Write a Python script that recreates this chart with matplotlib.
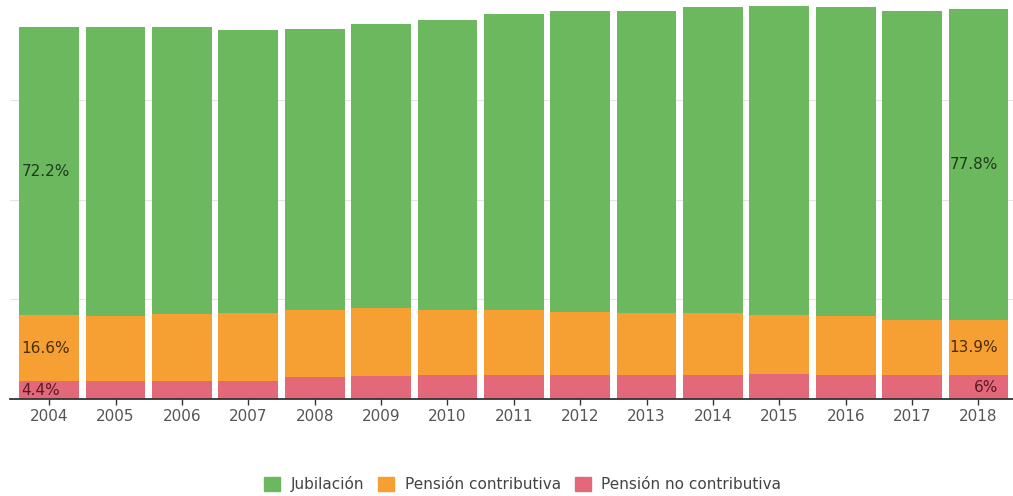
import matplotlib.pyplot as plt
from matplotlib.patches import Patch

years = ["2004", "2005", "2006", "2007", "2008", "2009", "2010", "2011",
         "2012", "2013", "2014", "2015", "2016", "2017", "2018"]
jubilacion = [72.2, 72.3, 71.9, 70.9, 70.4, 71.3, 72.7, 74.2,
              75.3, 75.8, 76.7, 77.5, 77.5, 77.4, 77.8]
contributiva = [16.6, 16.5, 16.9, 17.0, 17.0, 17.0, 16.5, 16.4,
                15.9, 15.5, 15.4, 14.8, 14.7, 13.9, 13.9]
no_contributiva = [4.4, 4.4, 4.5, 4.6, 5.4, 5.7, 5.9, 6.0,
                   6.0, 6.0, 6.1, 6.3, 6.0, 5.9, 6.0]
series_names = ["Jubilación", "Pensión contributiva", "Pensión no contributiva"]

c_green = "#6bb85f"
c_orange = "#f6a034"
c_pink = "#e3697a"

plt.rcParams["font.family"] = ["DejaVu Sans"]

fig = plt.figure(figsize=(10.13, 4.96), dpi=100)
ax = fig.add_axes([0.0099, 1 - 399 / 496, 0.9901, 399 / 496])

x = list(range(len(years)))
w = 0.9
ax.bar(x, no_contributiva, width=w, color=c_pink, zorder=2)
ax.bar(x, contributiva, width=w, bottom=no_contributiva, color=c_orange, zorder=2)
bottom_green = [a + b for a, b in zip(no_contributiva, contributiva)]
ax.bar(x, jubilacion, width=w, bottom=bottom_green, color=c_green, zorder=2)

# value labels on first and last bars
fs = 11
txt_cols = ["#1e3b1c", "#4a2c05", "#5a1822"]
for i, ha, dx in [(0, "left", -0.42), (len(years) - 1, "right", 0.3)]:
    segs = [(bottom_green[i] + jubilacion[i] / 2, jubilacion[i], txt_cols[0]),
            (no_contributiva[i] + contributiva[i] / 2, contributiva[i], txt_cols[1]),
            (no_contributiva[i] / 2, no_contributiva[i], txt_cols[2])]
    for y, v, col in segs:
        ax.text(i + dx, y, f"{v:g}%", ha=ha, va="center", fontsize=fs,
                color=col, zorder=3)

ax.set_xlim(-0.59, 14.52)
ax.set_ylim(0, 100)
ax.set_yticks([25, 50, 75])
ax.yaxis.grid(True, color="#e4e4e4", linewidth=0.8, zorder=0)
ax.tick_params(axis="y", length=0, labelleft=False)
ax.set_xticks(x)
ax.set_xticklabels(years, fontsize=11, color="#555555")
ax.tick_params(axis="x", length=4, width=1, color="#333333", pad=3)
for s in ["top", "right", "left"]:
    ax.spines[s].set_visible(False)
ax.spines["bottom"].set_color("#333333")
ax.spines["bottom"].set_linewidth(1.3)
ax.set_facecolor("none")

handles = [Patch(color=c) for c in (c_green, c_orange, c_pink)]
fig.legend(handles, series_names, loc="center", bbox_to_anchor=(0.516, 0.024),
           ncol=3, frameon=False, fontsize=11, handlelength=1.05,
           handleheight=1.05, handletextpad=0.7, columnspacing=0.9,
           labelcolor="#444444")

fig.savefig("out.png", dpi=100)
